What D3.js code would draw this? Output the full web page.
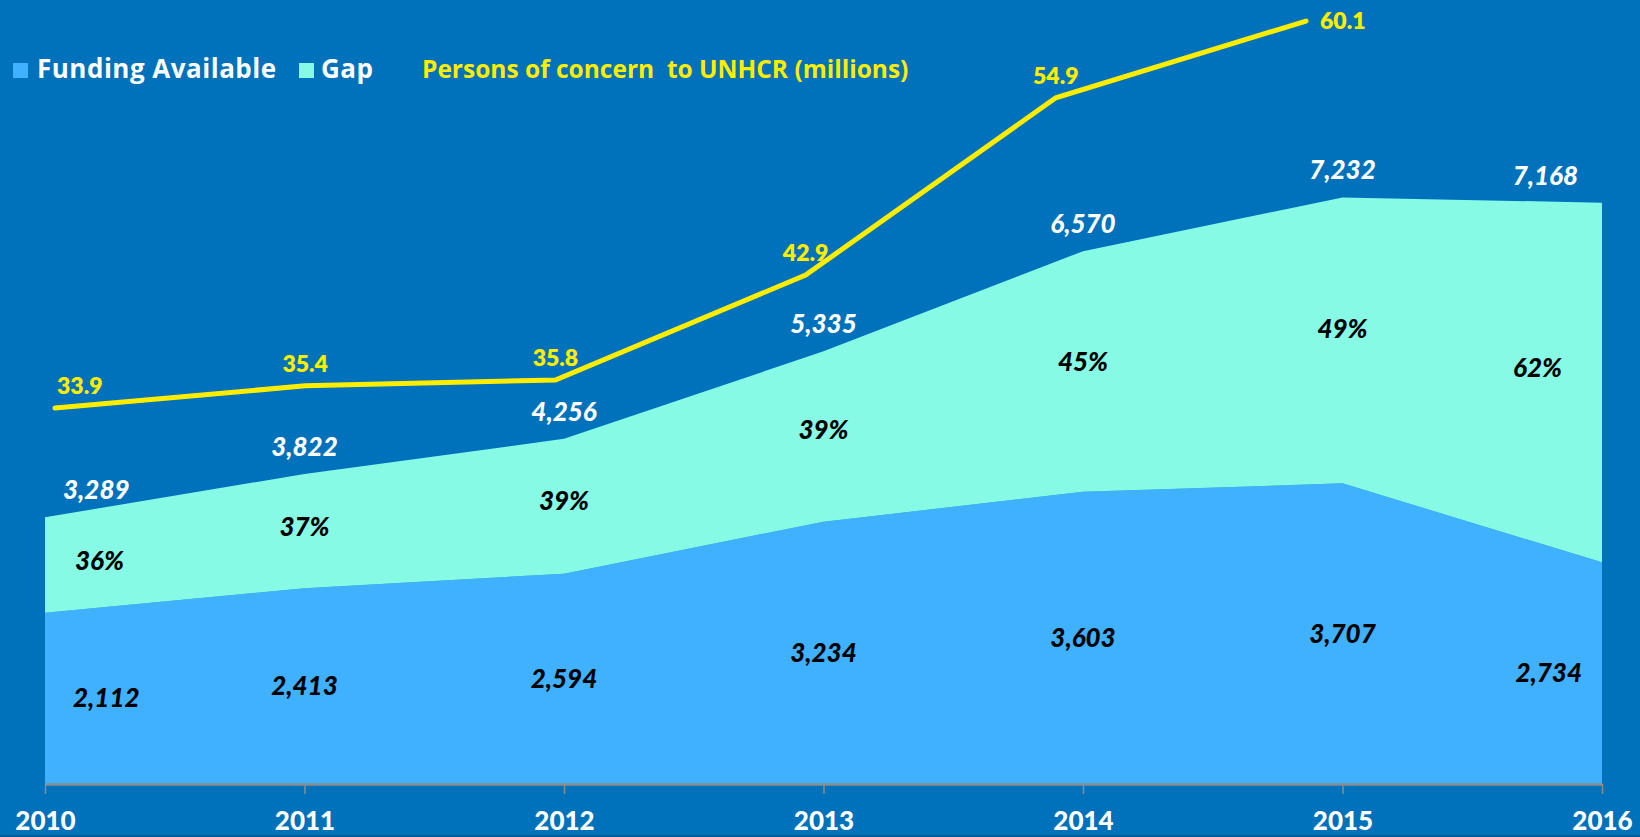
<!DOCTYPE html>
<html>
<head>
<meta charset="utf-8">
<script src="https://cdn.jsdelivr.net/npm/d3@7"></script>
<style>
  html, body { margin: 0; padding: 0; background: #0071bb; }
  svg { display: block; }
  .lbl { font-family: Lato, "Open Sans", sans-serif; font-weight: 900; font-style: italic; font-size: 26px; }
  .leg { font-family: "Open Sans", Lato, sans-serif; font-weight: 700; }
</style>
</head>
<body>
<div id="chart"></div>
<script>
var years = ["2010", "2011", "2012", "2013", "2014", "2015", "2016"];
var funding = [2112, 2413, 2594, 3234, 3603, 3707, 2734];
var gap = [1177, 1409, 1662, 2101, 2967, 3525, 4434];
var totals = [3289, 3822, 4256, 5335, 6570, 7232, 7168];
var gapShare = ["36%", "37%", "39%", "39%", "45%", "49%", "62%"];
var persons = [33.9, 35.4, 35.8, 42.9, 54.9, 60.1];

var W = 1640, H = 837;
var col = {bg: "#0071bb", funding: "#3fb1ff", gap: "#86fae4", line: "#ffed00"};

var svg = d3.select("#chart")
    .append("svg")
    .attr("width", W)
    .attr("height", H);

svg.append("rect")
    .attr("width", W)
    .attr("height", H)
    .attr("fill", col.bg);

svg.append("rect")
    .attr("y", H - 2)
    .attr("width", W)
    .attr("height", 2)
    .attr("fill", "#005a94");

var left = 45, right = 1602, base = 784;

var x = d3.scalePoint().domain(years).range([left, right]);
var y = d3.scaleLinear().domain([0, 9000]).range([base, base - 9000 * 0.0811]);

// the persons line sits on its own (secondary) axes
var x2 = d3.scalePoint().domain(years.slice(0, persons.length)).range([55, 1306]);
var y2 = d3.scaleLinear().domain([30, 60]).range([465.6, 22.5]);

var rows = years.map(function(yr, i) {
    return {year: yr, funding: funding[i], gap: gap[i]};
});

var series = d3.stack().keys(["funding", "gap"])(rows);

var area = d3.area()
    .x(function(d) { return x(d.data.year); })
    .y0(function(d) { return y(d[0]); })
    .y1(function(d) { return y(d[1]); });

svg.selectAll(".band")
    .data(series)
    .enter()
    .append("path")
    .attr("class", "band")
    .attr("d", area)
    .attr("fill", function(d) { return col[d.key]; });

// x axis
var xAxis = svg.append("g")
    .attr("transform", "translate(0," + base + ")")
    .call(d3.axisBottom(x).tickSize(10).tickSizeOuter(0).tickPadding(18));

xAxis.select(".domain").attr("stroke", "#8c8c8c").attr("stroke-width", 2.5);
xAxis.selectAll(".tick line").attr("stroke", "#8c8c8c").attr("stroke-width", 1.5);
xAxis.selectAll(".tick text")
    .attr("fill", "#fff")
    .style("font-family", "Lato, sans-serif")
    .style("font-weight", 900)
    .style("font-size", "26px");

// keep labels inside the plot near the edges
function clampX(sel, padL, padR) {
    sel.each(function() {
        var t = d3.select(this);
        var w = this.getComputedTextLength();
        var cx = +t.attr("x");
        cx = Math.max(cx, left + padL + w / 2);
        cx = Math.min(cx, right - padR - w / 2);
        t.attr("x", cx);
    });
}

var fmt = d3.format(",");

// totals above the stack
svg.selectAll(".tot")
    .data(totals)
    .enter()
    .append("text")
    .attr("class", "lbl tot")
    .attr("x", function(d, i) { return x(years[i]); })
    .attr("y", function(d) { return y(d) - 18; })
    .attr("text-anchor", "middle")
    .attr("fill", "#fff")
    .text(function(d) { return fmt(d); })
    .call(clampX, 18, 24);

// gap share, a bit above the middle of the gap band
svg.selectAll(".pct")
    .data(gapShare)
    .enter()
    .append("text")
    .attr("class", "lbl pct")
    .attr("x", function(d, i) { return x(years[i]); })
    .attr("y", function(d, i) { return y(funding[i] + gap[i] * 0.54) + 9; })
    .attr("text-anchor", "middle")
    .attr("fill", "#000")
    .text(function(d) { return d; })
    .call(clampX, 30, 40);

// funding values, inside the funding band
svg.selectAll(".fund")
    .data(funding)
    .enter()
    .append("text")
    .attr("class", "lbl fund")
    .attr("x", function(d, i) { return x(years[i]); })
    .attr("y", function(d) { return y(d / 2) + 9; })
    .attr("text-anchor", "middle")
    .attr("fill", "#000")
    .text(function(d) { return fmt(d); })
    .call(clampX, 28, 20);

// persons of concern line
var line = d3.line()
    .x(function(d, i) { return x2(years[i]); })
    .y(function(d) { return y2(d); });

svg.append("path")
    .attr("d", line(persons))
    .attr("fill", "none")
    .attr("stroke", col.line)
    .attr("stroke-width", 5)
    .attr("stroke-linecap", "round");

var last = persons.length - 1;
svg.selectAll(".pv")
    .data(persons)
    .enter()
    .append("text")
    .attr("class", "pv")
    .attr("x", function(d, i) { return i == last ? x2(years[i]) + 14 : x2(years[i]); })
    .attr("y", function(d, i) { return i == last ? y2(d) + 8 : y2(d) - 14; })
    .attr("text-anchor", function(d, i) { return i == last ? "start" : "middle"; })
    .attr("fill", col.line)
    .style("font-family", "Lato, sans-serif")
    .style("font-weight", 800)
    .style("font-size", "23px")
    .text(function(d) { return d.toFixed(1); })
    .call(clampX, 12, 0);

// legend
var legend = svg.append("g").attr("transform", "translate(13,78)");

legend.append("rect").attr("x", 0).attr("y", -15).attr("width", 15).attr("height", 15).attr("fill", col.funding);
legend.append("text").attr("class", "leg").attr("x", 24).attr("fill", "#fff")
    .style("font-size", "26px").style("letter-spacing", "0.5px").text("Funding Available");
legend.append("rect").attr("x", 286).attr("y", -15).attr("width", 15).attr("height", 15).attr("fill", col.gap);
legend.append("text").attr("class", "leg").attr("x", 308).attr("fill", "#fff")
    .style("font-size", "26px").style("letter-spacing", "0.5px").text("Gap");
legend.append("text").attr("class", "leg").attr("x", 409).attr("fill", col.line)
    .style("font-size", "24.5px")
    .style("white-space", "pre")
    .attr("xml:space", "preserve")
    .text("Persons of concern  to UNHCR (millions)");
</script>
</body>
</html>
